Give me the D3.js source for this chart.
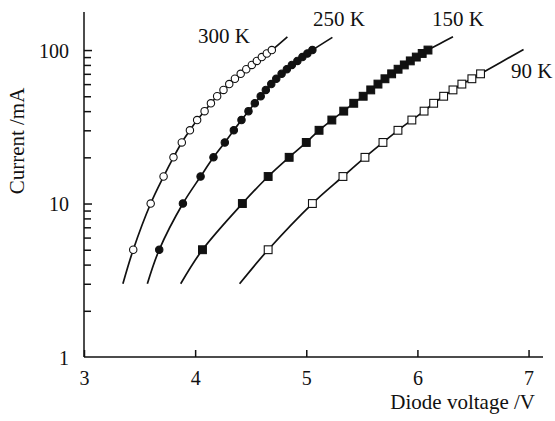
<!DOCTYPE html>
<html><head><meta charset="utf-8">
<script src="https://cdn.jsdelivr.net/npm/d3@7"></script>
<style>body{margin:0;background:#fff}</style>
</head><body>
<svg id="c" width="555" height="421"></svg>
<script>
// Current (mA) at which markers were measured
const currents = [5,10,15,20,25,30,35,40,45,50,55,60,65,70,75,80,85,90,95,100];
const currents90 = [5,10,15,20,25,30,35,40,45,50,55,60,65,70];
// Diode voltage (V) for each temperature
const v300 = [3.443,3.60,3.716,3.805,3.88,3.953,4.018,4.085,4.142,4.198,4.255,4.307,4.358,4.41,4.46,4.51,4.555,4.60,4.645,4.69];
const v250 = [3.677,3.89,4.049,4.165,4.267,4.348,4.417,4.48,4.537,4.59,4.636,4.685,4.73,4.778,4.825,4.87,4.92,4.965,5.01,5.055];
const v150 = [4.066,4.425,4.657,4.846,5.0,5.115,5.23,5.337,5.427,5.512,5.58,5.645,5.708,5.768,5.826,5.882,5.936,5.99,6.043,6.095];
const v90  = [4.657,5.055,5.33,5.528,5.69,5.825,5.95,6.06,6.146,6.236,6.32,6.40,6.49,6.568];
// fitted-curve end points [current mA, voltage V]
const ends300 = [[3,3.35],[122,4.83]];
const ends250 = [[3,3.57],[121,5.235]];
const ends150 = [[3,3.87],[122,6.32]];
const ends90  = [[3,4.40],[101,6.955]];
const seriesLabels = ["300 K","250 K","150 K","90 K"];
const xTicks = [3,4,5,6,7];
const yMajor = [1,10,100];
const yMinor = [2,3,4,5,6,7,8,9,20,30,40,50,60,70,80,90];

const FONT = "'Liberation Serif', Tinos, 'Times New Roman', 'DejaVu Serif', serif";
const svg = d3.select("#c");
const x = d3.scaleLinear().domain([3,7.13]).range([84,543]);
const y = d3.scaleLog().domain([1,177]).range([357,12]);

const series = [
  {I:currents, V:v300, ends:ends300, shape:"circle", fill:"#fff", label:seriesLabels[0], lx:198, ly:43},
  {I:currents, V:v250, ends:ends250, shape:"circle", fill:"#111", label:seriesLabels[1], lx:313, ly:26},
  {I:currents, V:v150, ends:ends150, shape:"square", fill:"#111", label:seriesLabels[2], lx:432, ly:26},
  {I:currents90, V:v90, ends:ends90, shape:"square", fill:"#fff", label:seriesLabels[3], lx:511, ly:78}
];

const line = d3.line().x(d=>x(d[1])).y(d=>y(d[0])).curve(d3.curveCatmullRom.alpha(0.5));

series.forEach(s=>{
  const pts = [s.ends[0], ...s.I.map((c,i)=>[c,s.V[i]]), s.ends[1]];
  svg.append("path").attr("d",line(pts)).attr("fill","none").attr("stroke","#111").attr("stroke-width",1.7);
});
series.forEach(s=>{
  const g = svg.append("g");
  s.I.forEach((c,i)=>{
    if(s.shape==="circle"){
      g.append("circle").attr("cx",x(s.V[i])).attr("cy",y(c)).attr("r",3.7)
        .attr("fill",s.fill).attr("stroke","#111").attr("stroke-width",1.1);
    } else {
      const sz = 7.8;
      g.append("rect").attr("x",x(s.V[i])-sz/2).attr("y",y(c)-sz/2).attr("width",sz).attr("height",sz)
        .attr("fill",s.fill).attr("stroke","#111").attr("stroke-width",1.1);
    }
  });
  svg.append("text").attr("x",s.lx).attr("y",s.ly).style("font-family",FONT).style("font-size","21px").attr("fill","#111").text(s.label);
});

// axes
const xAxis = d3.axisBottom(x).tickValues(xTicks).tickSize(-7).tickPadding(14).tickFormat(d3.format("d"));
const gx = svg.append("g").attr("transform","translate(0,357)").call(xAxis);
gx.select(".domain").attr("d",`M84,0H543`);
const yAxis = d3.axisLeft(y).tickValues(yMajor).tickSize(-8).tickPadding(15).tickFormat(d3.format("d"));
const gy = svg.append("g").attr("transform","translate(84,0)").call(yAxis);
gy.select(".domain").attr("d",`M0,357V12`);
const yAxisMinor = d3.axisLeft(y).tickValues(yMinor).tickSize(-7).tickFormat("");
const gym = svg.append("g").attr("transform","translate(84,0)").call(yAxisMinor);
gym.select(".domain").remove();
[gx,gy,gym].forEach(g=>{
  g.attr("font-family",null).attr("font-size",null);
  g.selectAll("path,line").attr("stroke","#111").attr("stroke-width",1.5);
  g.selectAll("text").style("font-size","20px").style("font-family",FONT).attr("fill","#111");
});
gy.selectAll(".tick").filter(d=>d===1).select("line").remove();
gy.selectAll("text").attr("dy","0.35em");

svg.append("text").attr("x",535).attr("y",409).attr("text-anchor","end").style("font-family",FONT).style("font-size","21px").attr("fill","#111").text("Diode voltage /V");
svg.append("text").attr("transform","translate(24,141) rotate(-90)").attr("text-anchor","middle").style("font-family",FONT).style("font-size","21px").attr("fill","#111").text("Current /mA");
</script>
</body></html>
